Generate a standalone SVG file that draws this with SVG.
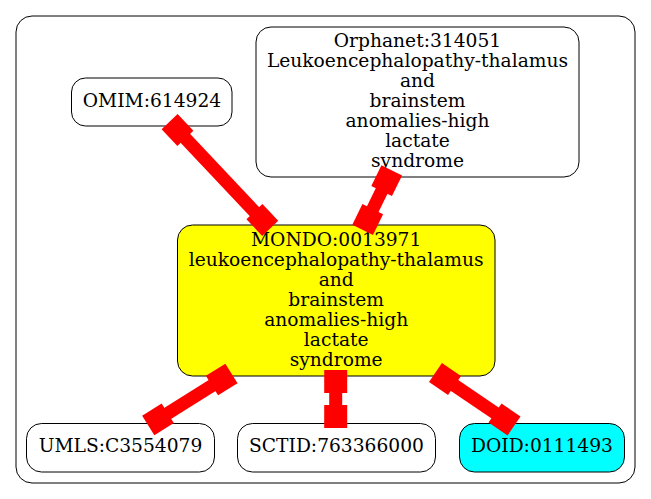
<svg xmlns="http://www.w3.org/2000/svg" width="651" height="499" viewBox="0 0 651 499">
<style>
.n{stroke:#000;stroke-width:1}
.t{font-family:"DejaVu Serif","Liberation Serif",serif;font-size:18.67px;text-anchor:middle;fill:#000}
.e line{stroke:#f00;stroke-width:13}
.e rect{fill:#f00}
</style>
<rect width="651" height="499" fill="#fff"/>
<g id="cluster"><rect x="16" y="16" width="619" height="467" rx="16" fill="none" stroke="#000"/></g>
<g id="omim"><rect class="n" x="71.5" y="78" width="160.5" height="48" rx="14" fill="#fff"/><text class="t" x="152" y="107">OMIM:614924</text></g>
<g id="orphanet"><rect class="n" x="256" y="27" width="323" height="150" rx="15" fill="#fff"/>
<text class="t" x="417.5"><tspan x="417.5" y="47">Orphanet:314051</tspan><tspan x="417.5" y="67">Leukoencephalopathy-thalamus</tspan><tspan x="417.5" y="86.5">and</tspan><tspan x="417.5" y="106.5">brainstem</tspan><tspan x="417.5" y="126.5">anomalies-high</tspan><tspan x="417.5" y="146.5">lactate</tspan><tspan x="417.5" y="166.5">syndrome</tspan></text></g>
<g id="mondo"><rect class="n" x="177.5" y="225" width="317.5" height="151" rx="15" fill="#ff0"/>
<text class="t"><tspan x="336.2" y="246">MONDO:0013971</tspan><tspan x="336.2" y="266">leukoencephalopathy-thalamus</tspan><tspan x="336.2" y="286">and</tspan><tspan x="336.2" y="306">brainstem</tspan><tspan x="336.2" y="326">anomalies-high</tspan><tspan x="336.2" y="346">lactate</tspan><tspan x="336.2" y="366">syndrome</tspan></text></g>
<g id="umls"><rect class="n" x="26.5" y="423.5" width="188" height="48.5" rx="15" fill="#fff"/><text class="t" x="120.5" y="452">UMLS:C3554079</text></g>
<g id="sctid"><rect class="n" x="237.5" y="423.5" width="198" height="48.5" rx="15" fill="#fff"/><text class="t" x="336.5" y="452">SCTID:763366000</text></g>
<g id="doid"><rect class="n" x="459.5" y="423.5" width="165" height="48.5" rx="15" fill="#0ff"/><text class="t" x="542" y="452">DOID:0111493</text></g>
<g id="edges">
<g class="e" transform="translate(177.5,130) rotate(46.7)"><line x1="0" y1="0" x2="123.7" y2="0"/><rect x="-11.5" y="-11" width="23" height="22"/><rect x="112.2" y="-11" width="23" height="22"/></g>
<g class="e" transform="translate(386.7,180.7) rotate(116.1)"><line x1="0" y1="0" x2="43.2" y2="0"/><rect x="-11.5" y="-11.5" width="23" height="23"/><rect x="31.7" y="-11.5" width="23" height="23"/></g>
<g class="e" transform="translate(221.7,379.5) rotate(147.9)"><line x1="0" y1="0" x2="75.2" y2="0"/><rect x="-11.5" y="-11.5" width="23" height="23"/><rect x="63.7" y="-11.5" width="23" height="23"/></g>
<g class="e" transform="translate(335.7,381.5) rotate(90)"><line x1="0" y1="0" x2="35" y2="0"/><rect x="-11.5" y="-11.5" width="23" height="23"/><rect x="23.5" y="-11.5" width="23" height="23"/></g>
<g class="e" transform="translate(445,379) rotate(34.2)"><line x1="0" y1="0" x2="72" y2="0"/><rect x="-11.5" y="-11.5" width="23" height="23"/><rect x="60.5" y="-11.5" width="23" height="23"/></g>
</g>
</svg>
